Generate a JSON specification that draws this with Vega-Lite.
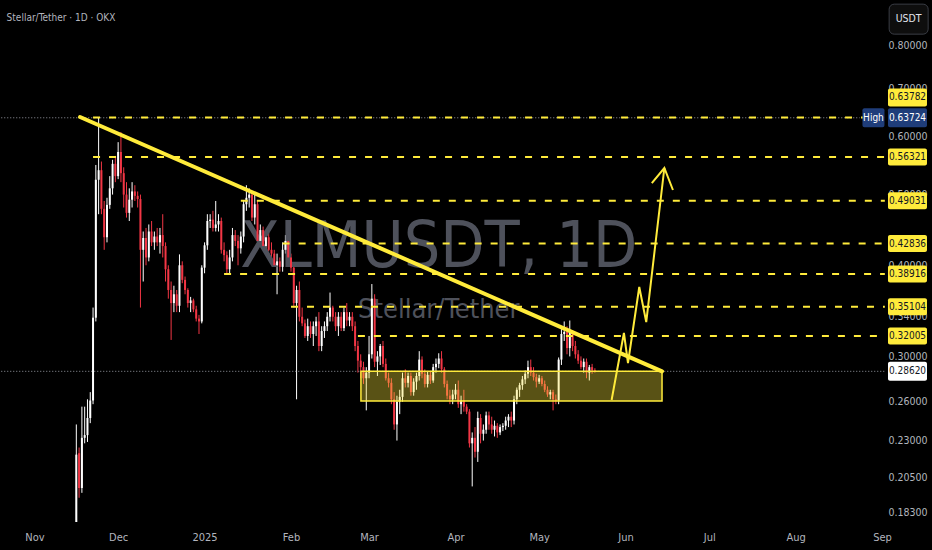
{
"$schema":"https://vega.github.io/schema/vega-lite/v6.json",
"width":932,"height":522,
"autosize":{"type":"none"},
"padding":{"left":0,"right":0,"top":0,"bottom":28},
"background":"#000000",
"config":{"view":{"stroke":null},"font":"Liberation Sans Narrow, DejaVu Sans Condensed, Liberation Sans, sans-serif"},
"resolve":{"axis":{"x":"independent","y":"independent"}},
"datasets":{
"candles":[
{"d":"2024-11-16","o":0.170,"h":0.242,"l":0.165,"c":0.220},
{"d":"2024-11-17","o":0.221,"h":0.225,"l":0.192,"c":0.198},
{"d":"2024-11-18","o":0.198,"h":0.256,"l":0.195,"c":0.232},
{"d":"2024-11-19","o":0.232,"h":0.256,"l":0.228,"c":0.234},
{"d":"2024-11-20","o":0.234,"h":0.262,"l":0.229,"c":0.247},
{"d":"2024-11-21","o":0.247,"h":0.268,"l":0.243,"c":0.261},
{"d":"2024-11-22","o":0.261,"h":0.350,"l":0.258,"c":0.339},
{"d":"2024-11-23","o":0.339,"h":0.549,"l":0.335,"c":0.524},
{"d":"2024-11-24","o":0.524,"h":0.6372,"l":0.470,"c":0.540},
{"d":"2024-11-25","o":0.540,"h":0.555,"l":0.470,"c":0.478},
{"d":"2024-11-26","o":0.478,"h":0.490,"l":0.420,"c":0.437},
{"d":"2024-11-27","o":0.437,"h":0.495,"l":0.430,"c":0.484},
{"d":"2024-11-28","o":0.484,"h":0.530,"l":0.478,"c":0.510},
{"d":"2024-11-29","o":0.510,"h":0.558,"l":0.500,"c":0.551},
{"d":"2024-11-30","o":0.551,"h":0.565,"l":0.520,"c":0.530},
{"d":"2024-12-01","o":0.530,"h":0.590,"l":0.525,"c":0.572},
{"d":"2024-12-02","o":0.572,"h":0.609,"l":0.520,"c":0.535},
{"d":"2024-12-03","o":0.535,"h":0.545,"l":0.480,"c":0.500},
{"d":"2024-12-04","o":0.500,"h":0.520,"l":0.465,"c":0.472},
{"d":"2024-12-05","o":0.472,"h":0.510,"l":0.460,"c":0.492},
{"d":"2024-12-06","o":0.492,"h":0.520,"l":0.480,"c":0.505},
{"d":"2024-12-07","o":0.505,"h":0.515,"l":0.490,"c":0.498},
{"d":"2024-12-08","o":0.498,"h":0.505,"l":0.480,"c":0.493},
{"d":"2024-12-09","o":0.493,"h":0.500,"l":0.350,"c":0.420},
{"d":"2024-12-10","o":0.420,"h":0.445,"l":0.380,"c":0.436},
{"d":"2024-12-11","o":0.436,"h":0.450,"l":0.400,"c":0.410},
{"d":"2024-12-12","o":0.410,"h":0.455,"l":0.405,"c":0.445},
{"d":"2024-12-13","o":0.445,"h":0.460,"l":0.425,"c":0.430},
{"d":"2024-12-14","o":0.430,"h":0.445,"l":0.420,"c":0.438},
{"d":"2024-12-15","o":0.438,"h":0.450,"l":0.425,"c":0.430},
{"d":"2024-12-16","o":0.430,"h":0.450,"l":0.415,"c":0.440},
{"d":"2024-12-17","o":0.440,"h":0.470,"l":0.410,"c":0.425},
{"d":"2024-12-18","o":0.425,"h":0.430,"l":0.380,"c":0.395},
{"d":"2024-12-19","o":0.395,"h":0.400,"l":0.360,"c":0.370},
{"d":"2024-12-20","o":0.370,"h":0.380,"l":0.316,"c":0.355},
{"d":"2024-12-21","o":0.355,"h":0.375,"l":0.345,"c":0.365},
{"d":"2024-12-22","o":0.365,"h":0.370,"l":0.345,"c":0.352},
{"d":"2024-12-23","o":0.352,"h":0.414,"l":0.345,"c":0.400},
{"d":"2024-12-24","o":0.400,"h":0.405,"l":0.378,"c":0.382},
{"d":"2024-12-25","o":0.382,"h":0.386,"l":0.365,"c":0.370},
{"d":"2024-12-26","o":0.370,"h":0.372,"l":0.350,"c":0.355},
{"d":"2024-12-27","o":0.355,"h":0.362,"l":0.345,"c":0.358},
{"d":"2024-12-28","o":0.358,"h":0.360,"l":0.345,"c":0.348},
{"d":"2024-12-29","o":0.348,"h":0.352,"l":0.335,"c":0.338},
{"d":"2024-12-30","o":0.338,"h":0.342,"l":0.322,"c":0.335},
{"d":"2024-12-31","o":0.335,"h":0.400,"l":0.333,"c":0.397},
{"d":"2025-01-01","o":0.397,"h":0.430,"l":0.390,"c":0.426},
{"d":"2025-01-02","o":0.426,"h":0.470,"l":0.420,"c":0.460},
{"d":"2025-01-03","o":0.460,"h":0.470,"l":0.450,"c":0.462},
{"d":"2025-01-04","o":0.462,"h":0.475,"l":0.445,"c":0.450},
{"d":"2025-01-05","o":0.450,"h":0.490,"l":0.445,"c":0.455},
{"d":"2025-01-06","o":0.455,"h":0.470,"l":0.445,"c":0.460},
{"d":"2025-01-07","o":0.460,"h":0.465,"l":0.415,"c":0.420},
{"d":"2025-01-08","o":0.420,"h":0.430,"l":0.405,"c":0.413},
{"d":"2025-01-09","o":0.413,"h":0.418,"l":0.389,"c":0.395},
{"d":"2025-01-10","o":0.395,"h":0.420,"l":0.390,"c":0.410},
{"d":"2025-01-11","o":0.410,"h":0.450,"l":0.405,"c":0.440},
{"d":"2025-01-12","o":0.440,"h":0.447,"l":0.425,"c":0.432},
{"d":"2025-01-13","o":0.432,"h":0.440,"l":0.400,"c":0.422},
{"d":"2025-01-14","o":0.422,"h":0.445,"l":0.415,"c":0.438},
{"d":"2025-01-15","o":0.438,"h":0.490,"l":0.430,"c":0.485},
{"d":"2025-01-16","o":0.485,"h":0.515,"l":0.475,"c":0.495},
{"d":"2025-01-17","o":0.495,"h":0.510,"l":0.480,"c":0.500},
{"d":"2025-01-18","o":0.500,"h":0.505,"l":0.460,"c":0.465},
{"d":"2025-01-19","o":0.465,"h":0.500,"l":0.455,"c":0.485},
{"d":"2025-01-20","o":0.485,"h":0.490,"l":0.430,"c":0.432},
{"d":"2025-01-21","o":0.432,"h":0.455,"l":0.425,"c":0.447},
{"d":"2025-01-22","o":0.447,"h":0.452,"l":0.420,"c":0.425},
{"d":"2025-01-23","o":0.425,"h":0.445,"l":0.420,"c":0.437},
{"d":"2025-01-24","o":0.437,"h":0.445,"l":0.418,"c":0.420},
{"d":"2025-01-25","o":0.420,"h":0.430,"l":0.410,"c":0.415},
{"d":"2025-01-26","o":0.415,"h":0.420,"l":0.398,"c":0.400},
{"d":"2025-01-27","o":0.400,"h":0.415,"l":0.365,"c":0.405},
{"d":"2025-01-28","o":0.405,"h":0.410,"l":0.392,"c":0.398},
{"d":"2025-01-29","o":0.398,"h":0.430,"l":0.392,"c":0.420},
{"d":"2025-01-30","o":0.420,"h":0.440,"l":0.415,"c":0.432},
{"d":"2025-01-31","o":0.432,"h":0.440,"l":0.405,"c":0.410},
{"d":"2025-02-01","o":0.410,"h":0.415,"l":0.392,"c":0.397},
{"d":"2025-02-02","o":0.397,"h":0.400,"l":0.350,"c":0.355},
{"d":"2025-02-03","o":0.355,"h":0.375,"l":0.262,"c":0.370},
{"d":"2025-02-04","o":0.370,"h":0.380,"l":0.335,"c":0.340},
{"d":"2025-02-05","o":0.340,"h":0.350,"l":0.330,"c":0.333},
{"d":"2025-02-06","o":0.333,"h":0.337,"l":0.318,"c":0.320},
{"d":"2025-02-07","o":0.320,"h":0.338,"l":0.315,"c":0.330},
{"d":"2025-02-08","o":0.330,"h":0.335,"l":0.318,"c":0.322},
{"d":"2025-02-09","o":0.322,"h":0.335,"l":0.310,"c":0.330},
{"d":"2025-02-10","o":0.330,"h":0.340,"l":0.320,"c":0.335},
{"d":"2025-02-11","o":0.335,"h":0.345,"l":0.305,"c":0.310},
{"d":"2025-02-12","o":0.310,"h":0.330,"l":0.305,"c":0.325},
{"d":"2025-02-13","o":0.325,"h":0.335,"l":0.318,"c":0.330},
{"d":"2025-02-14","o":0.330,"h":0.345,"l":0.325,"c":0.340},
{"d":"2025-02-15","o":0.340,"h":0.367,"l":0.335,"c":0.350},
{"d":"2025-02-16","o":0.350,"h":0.352,"l":0.335,"c":0.340},
{"d":"2025-02-17","o":0.340,"h":0.345,"l":0.325,"c":0.330},
{"d":"2025-02-18","o":0.330,"h":0.345,"l":0.320,"c":0.340},
{"d":"2025-02-19","o":0.340,"h":0.345,"l":0.325,"c":0.328},
{"d":"2025-02-20","o":0.328,"h":0.350,"l":0.325,"c":0.345},
{"d":"2025-02-21","o":0.345,"h":0.355,"l":0.330,"c":0.336},
{"d":"2025-02-22","o":0.336,"h":0.345,"l":0.330,"c":0.340},
{"d":"2025-02-23","o":0.340,"h":0.345,"l":0.325,"c":0.330},
{"d":"2025-02-24","o":0.330,"h":0.335,"l":0.305,"c":0.310},
{"d":"2025-02-25","o":0.310,"h":0.315,"l":0.285,"c":0.296},
{"d":"2025-02-26","o":0.296,"h":0.302,"l":0.280,"c":0.290},
{"d":"2025-02-27","o":0.290,"h":0.295,"l":0.275,"c":0.280},
{"d":"2025-02-28","o":0.280,"h":0.290,"l":0.253,"c":0.285},
{"d":"2025-03-01","o":0.285,"h":0.320,"l":0.280,"c":0.302},
{"d":"2025-03-02","o":0.302,"h":0.377,"l":0.298,"c":0.360},
{"d":"2025-03-03","o":0.360,"h":0.365,"l":0.290,"c":0.295},
{"d":"2025-03-04","o":0.295,"h":0.305,"l":0.282,"c":0.300},
{"d":"2025-03-05","o":0.300,"h":0.312,"l":0.292,"c":0.310},
{"d":"2025-03-06","o":0.310,"h":0.315,"l":0.290,"c":0.293},
{"d":"2025-03-07","o":0.293,"h":0.298,"l":0.278,"c":0.280},
{"d":"2025-03-08","o":0.280,"h":0.285,"l":0.272,"c":0.276},
{"d":"2025-03-09","o":0.276,"h":0.280,"l":0.258,"c":0.262},
{"d":"2025-03-10","o":0.262,"h":0.268,"l":0.238,"c":0.242},
{"d":"2025-03-11","o":0.242,"h":0.265,"l":0.230,"c":0.260},
{"d":"2025-03-12","o":0.260,"h":0.270,"l":0.250,"c":0.264},
{"d":"2025-03-13","o":0.264,"h":0.285,"l":0.260,"c":0.280},
{"d":"2025-03-14","o":0.280,"h":0.288,"l":0.272,"c":0.276},
{"d":"2025-03-15","o":0.276,"h":0.285,"l":0.272,"c":0.282},
{"d":"2025-03-16","o":0.282,"h":0.285,"l":0.265,"c":0.268},
{"d":"2025-03-17","o":0.268,"h":0.280,"l":0.265,"c":0.277},
{"d":"2025-03-18","o":0.277,"h":0.285,"l":0.270,"c":0.282},
{"d":"2025-03-19","o":0.282,"h":0.305,"l":0.278,"c":0.297},
{"d":"2025-03-20","o":0.297,"h":0.300,"l":0.280,"c":0.284},
{"d":"2025-03-21","o":0.284,"h":0.288,"l":0.272,"c":0.275},
{"d":"2025-03-22","o":0.275,"h":0.286,"l":0.272,"c":0.283},
{"d":"2025-03-23","o":0.283,"h":0.286,"l":0.275,"c":0.278},
{"d":"2025-03-24","o":0.278,"h":0.293,"l":0.276,"c":0.290},
{"d":"2025-03-25","o":0.290,"h":0.298,"l":0.285,"c":0.293},
{"d":"2025-03-26","o":0.293,"h":0.303,"l":0.289,"c":0.298},
{"d":"2025-03-27","o":0.298,"h":0.305,"l":0.285,"c":0.288},
{"d":"2025-03-28","o":0.288,"h":0.290,"l":0.272,"c":0.275},
{"d":"2025-03-29","o":0.275,"h":0.278,"l":0.262,"c":0.265},
{"d":"2025-03-30","o":0.265,"h":0.270,"l":0.258,"c":0.262},
{"d":"2025-03-31","o":0.262,"h":0.270,"l":0.258,"c":0.266},
{"d":"2025-04-01","o":0.266,"h":0.275,"l":0.262,"c":0.270},
{"d":"2025-04-02","o":0.270,"h":0.278,"l":0.255,"c":0.258},
{"d":"2025-04-03","o":0.258,"h":0.265,"l":0.250,"c":0.261},
{"d":"2025-04-04","o":0.261,"h":0.270,"l":0.252,"c":0.256},
{"d":"2025-04-05","o":0.256,"h":0.258,"l":0.250,"c":0.252},
{"d":"2025-04-06","o":0.252,"h":0.254,"l":0.225,"c":0.228},
{"d":"2025-04-07","o":0.228,"h":0.236,"l":0.199,"c":0.232},
{"d":"2025-04-08","o":0.232,"h":0.240,"l":0.218,"c":0.222},
{"d":"2025-04-09","o":0.222,"h":0.252,"l":0.215,"c":0.247},
{"d":"2025-04-10","o":0.247,"h":0.250,"l":0.228,"c":0.235},
{"d":"2025-04-11","o":0.235,"h":0.242,"l":0.230,"c":0.238},
{"d":"2025-04-12","o":0.238,"h":0.252,"l":0.235,"c":0.249},
{"d":"2025-04-13","o":0.249,"h":0.252,"l":0.238,"c":0.242},
{"d":"2025-04-14","o":0.242,"h":0.248,"l":0.235,"c":0.238},
{"d":"2025-04-15","o":0.238,"h":0.245,"l":0.233,"c":0.241},
{"d":"2025-04-16","o":0.241,"h":0.243,"l":0.232,"c":0.236},
{"d":"2025-04-17","o":0.236,"h":0.242,"l":0.234,"c":0.240},
{"d":"2025-04-18","o":0.240,"h":0.243,"l":0.237,"c":0.241},
{"d":"2025-04-19","o":0.241,"h":0.248,"l":0.238,"c":0.245},
{"d":"2025-04-20","o":0.245,"h":0.250,"l":0.240,"c":0.248},
{"d":"2025-04-21","o":0.248,"h":0.252,"l":0.240,"c":0.245},
{"d":"2025-04-22","o":0.245,"h":0.265,"l":0.242,"c":0.262},
{"d":"2025-04-23","o":0.262,"h":0.272,"l":0.258,"c":0.270},
{"d":"2025-04-24","o":0.270,"h":0.276,"l":0.264,"c":0.274},
{"d":"2025-04-25","o":0.274,"h":0.282,"l":0.270,"c":0.279},
{"d":"2025-04-26","o":0.279,"h":0.287,"l":0.275,"c":0.284},
{"d":"2025-04-27","o":0.284,"h":0.296,"l":0.280,"c":0.290},
{"d":"2025-04-28","o":0.290,"h":0.297,"l":0.282,"c":0.285},
{"d":"2025-04-29","o":0.285,"h":0.290,"l":0.278,"c":0.281},
{"d":"2025-04-30","o":0.281,"h":0.284,"l":0.272,"c":0.277},
{"d":"2025-05-01","o":0.277,"h":0.283,"l":0.275,"c":0.280},
{"d":"2025-05-02","o":0.280,"h":0.282,"l":0.273,"c":0.275},
{"d":"2025-05-03","o":0.275,"h":0.278,"l":0.268,"c":0.270},
{"d":"2025-05-04","o":0.270,"h":0.273,"l":0.264,"c":0.266},
{"d":"2025-05-05","o":0.266,"h":0.270,"l":0.262,"c":0.268},
{"d":"2025-05-06","o":0.268,"h":0.270,"l":0.253,"c":0.262},
{"d":"2025-05-07","o":0.262,"h":0.266,"l":0.258,"c":0.261},
{"d":"2025-05-08","o":0.261,"h":0.299,"l":0.258,"c":0.297},
{"d":"2025-05-09","o":0.297,"h":0.327,"l":0.292,"c":0.322},
{"d":"2025-05-10","o":0.322,"h":0.335,"l":0.315,"c":0.324},
{"d":"2025-05-11","o":0.324,"h":0.330,"l":0.302,"c":0.308},
{"d":"2025-05-12","o":0.308,"h":0.336,"l":0.300,"c":0.323},
{"d":"2025-05-13","o":0.323,"h":0.326,"l":0.305,"c":0.310},
{"d":"2025-05-14","o":0.310,"h":0.315,"l":0.298,"c":0.302},
{"d":"2025-05-15","o":0.302,"h":0.306,"l":0.293,"c":0.296},
{"d":"2025-05-16","o":0.296,"h":0.300,"l":0.288,"c":0.290},
{"d":"2025-05-17","o":0.290,"h":0.298,"l":0.285,"c":0.295},
{"d":"2025-05-18","o":0.295,"h":0.298,"l":0.280,"c":0.285},
{"d":"2025-05-19","o":0.285,"h":0.292,"l":0.278,"c":0.290},
{"d":"2025-05-20","o":0.290,"h":0.293,"l":0.284,"c":0.287},
{"d":"2025-05-21","o":0.287,"h":0.289,"l":0.285,"c":0.2862}
],
"levels":[
{"v":0.63782,"a":"2024-11-22","t":"0.63782"},
{"v":0.56321,"a":"2024-11-22","t":"0.56321"},
{"v":0.49031,"a":"2025-01-14","t":"0.49031"},
{"v":0.42836,"a":"2025-01-29","t":"0.42836"},
{"v":0.38916,"a":"2025-01-08","t":"0.38916"},
{"v":0.35104,"a":"2025-02-01","t":"0.35104"},
{"v":0.32005,"a":"2025-02-25","t":"0.32005"}
],
"arrow":[
{"s":"a","i":1,"t":"2025-05-27T00:00:00Z","p":0.2614},
{"s":"a","i":2,"t":"2025-05-31T10:00:00Z","p":0.323},
{"s":"a","i":3,"t":"2025-06-01T21:00:00Z","p":0.2938},
{"s":"a","i":4,"t":"2025-06-05T22:00:00Z","p":0.3735},
{"s":"a","i":5,"t":"2025-06-08T10:00:00Z","p":0.3344},
{"s":"a","i":6,"t":"2025-06-14T22:00:00Z","p":0.5438},
{"s":"h","i":1,"t":"2025-06-10T10:00:00Z","p":0.5186},
{"s":"h","i":2,"t":"2025-06-14T22:00:00Z","p":0.5438},
{"s":"h","i":3,"t":"2025-06-18T00:00:00Z","p":0.5073}
]
},
"layer":[
{"data":{"name":"candles"},
 "mark":{"type":"rule","strokeWidth":1,"clip":true},
 "encoding":{
  "x":{"field":"d","type":"temporal","scale":{"type":"utc","domain":[1729350000000,1758232800000],"nice":false},
   "axis":{"title":null,"orient":"bottom","grid":false,"ticks":false,"domain":false,"labelColor":"#b2b5be","labelFontSize":11,"labelPadding":9,"labelFlush":false,"labelOverlap":false,
    "values":[{"year":2024,"month":11,"date":1,"utc":true},{"year":2024,"month":12,"date":1,"utc":true},{"year":2025,"month":1,"date":1,"utc":true},{"year":2025,"month":2,"date":1,"utc":true},{"year":2025,"month":3,"date":1,"utc":true},{"year":2025,"month":4,"date":1,"utc":true},{"year":2025,"month":5,"date":1,"utc":true},{"year":2025,"month":6,"date":1,"utc":true},{"year":2025,"month":7,"date":1,"utc":true},{"year":2025,"month":8,"date":1,"utc":true},{"year":2025,"month":9,"date":1,"utc":true}],
    "labelExpr":"utcFormat(datum.value, '%m') == '01' ? utcFormat(datum.value, '%Y') : utcFormat(datum.value, '%b')"}},
  "y":{"field":"l","type":"quantitative","scale":{"type":"log","domain":[0.17786,0.9242],"nice":false},
   "axis":{"title":null,"orient":"right","offset":-44.5,"grid":false,"ticks":false,"tickSize":0,"domain":false,"labelColor":"#b2b5be","labelFontSize":10.5,"labelAlign":"center","labelBaseline":"middle","labelPadding":20,"labelFlush":false,"labelOverlap":false,"format":".5f",
    "values":[0.8,0.7,0.6,0.5,0.4,0.34,0.3,0.26,0.23,0.205,0.183]}},
  "y2":{"field":"h"},
  "color":{"condition":{"test":"datum.c >= datum.o","value":"#ffffff"},"value":"#f23645"}}},
{"data":{"values":[{"t":"XLMUSDT, 1D"}]},
 "mark":{"type":"text","fontSize":64,"color":"#4e515b","align":"center","baseline":"alphabetic"},
 "encoding":{"text":{"field":"t"},
  "x":{"datum":{"year":2025,"month":3,"date":26,"utc":true},"type":"temporal","axis":null},
  "y":{"datum":0.398,"type":"quantitative","axis":null}}},
{"data":{"values":[{"t":"Stellar/Tether"}]},
 "mark":{"type":"text","fontSize":27,"color":"#4e515b","align":"center","baseline":"alphabetic"},
 "encoding":{"text":{"field":"t"},
  "x":{"datum":{"year":2025,"month":3,"date":26,"utc":true},"type":"temporal","axis":null},
  "y":{"datum":0.3387,"type":"quantitative","axis":null}}},
{"data":{"values":[{"t":"Stellar/Tether · 1D · OKX"}]},
 "mark":{"type":"text","fontSize":10,"color":"#b2b5be","align":"left","baseline":"middle"},
 "encoding":{"text":{"field":"t"},
  "x":{"datum":{"year":2024,"month":10,"date":22,"utc":true},"type":"temporal","axis":null},
  "y":{"datum":0.873,"type":"quantitative","axis":null}}},
{"data":{"values":[{"v":0.63724,"a":"2024-10-19","b":"2025-08-24"},{"v":0.2862,"a":"2024-10-19","b":"2025-09-02"}]},
 "mark":{"type":"rule","color":"#9598a1","strokeWidth":1,"strokeDash":[1,2]},
 "encoding":{"x":{"field":"a","type":"temporal","axis":null},"x2":{"field":"b"},
  "y":{"field":"v","type":"quantitative","axis":null}}},
{"data":{"name":"candles"},
 "mark":{"type":"rule","strokeWidth":2,"clip":true},
 "encoding":{
  "x":{"field":"d","type":"temporal","axis":null},
  "y":{"field":"o","type":"quantitative","axis":null},
  "y2":{"field":"c"},
  "color":{"condition":{"test":"datum.c >= datum.o","value":"#ffffff"},"value":"#f23645"}}},
{"data":{"values":[{"t0":"2025-02-26T02:00:00Z","t1":"2025-06-14T02:00:00Z","p0":0.2607,"p1":0.2862}]},
 "mark":{"type":"rect","fill":"#ffeb3b","fillOpacity":0.35,"stroke":"#ffeb3b","strokeWidth":1.5},
 "encoding":{"x":{"field":"t0","type":"temporal","axis":null},"x2":{"field":"t1"},
  "y":{"field":"p0","type":"quantitative","axis":null},"y2":{"field":"p1"}}},
{"data":{"name":"levels"},
 "mark":{"type":"rule","color":"#ffeb3b","strokeWidth":2,"strokeDash":[7,9]},
 "encoding":{"x":{"field":"a","type":"temporal","axis":null},"x2":{"datum":{"year":2025,"month":9,"date":2,"utc":true}},
  "y":{"field":"v","type":"quantitative","axis":null}}},
{"data":{"values":[{"t":"2024-11-17T08:00:00Z","p":0.6388},{"t":"2025-06-14T02:00:00Z","p":0.2862}]},
 "mark":{"type":"line","color":"#ffeb3b","strokeWidth":4,"strokeCap":"round"},
 "encoding":{"x":{"field":"t","type":"temporal","axis":null},"y":{"field":"p","type":"quantitative","axis":null}}},
{"data":{"name":"arrow"},
 "mark":{"type":"line","color":"#ffeb3b","strokeWidth":2,"strokeJoin":"miter"},
 "encoding":{"x":{"field":"t","type":"temporal","axis":null},"y":{"field":"p","type":"quantitative","axis":null},
  "detail":{"field":"s"},"order":{"field":"i"}}},
{"data":{"name":"levels"},
 "transform":[{"filter":"datum.v != 0.63782"}],
 "mark":{"type":"tick","orient":"horizontal","thickness":17,"color":"#ffeb3b","opacity":1,"cornerRadius":2},
 "encoding":{"x":{"datum":{"year":2025,"month":9,"date":10,"hours":3,"utc":true},"type":"temporal","axis":null},
  "y":{"field":"v","type":"quantitative","axis":null},"size":{"value":39}}},
{"data":{"name":"levels"},
 "transform":[{"filter":"datum.v != 0.63782"}],
 "mark":{"type":"text","fontSize":10,"color":"#131722","align":"center","baseline":"middle"},
 "encoding":{"x":{"datum":{"year":2025,"month":9,"date":10,"hours":3,"utc":true},"type":"temporal","axis":null},
  "y":{"field":"v","type":"quantitative","axis":null},"text":{"field":"t"}}},
{"data":{"name":"levels"},
 "transform":[{"filter":"datum.v == 0.63782"}],
 "mark":{"type":"tick","orient":"horizontal","thickness":18,"color":"#ffeb3b","opacity":1,"cornerRadius":2,"yOffset":-20},
 "encoding":{"x":{"datum":{"year":2025,"month":9,"date":10,"hours":3,"utc":true},"type":"temporal","axis":null},
  "y":{"field":"v","type":"quantitative","axis":null},"size":{"value":39}}},
{"data":{"name":"levels"},
 "transform":[{"filter":"datum.v == 0.63782"}],
 "mark":{"type":"text","fontSize":10,"color":"#131722","align":"center","baseline":"middle","yOffset":-20},
 "encoding":{"x":{"datum":{"year":2025,"month":9,"date":10,"hours":3,"utc":true},"type":"temporal","axis":null},
  "y":{"field":"v","type":"quantitative","axis":null},"text":{"field":"t"}}},
{"data":{"values":[{"v":0.63724}]},
 "mark":{"type":"tick","orient":"horizontal","thickness":19,"color":"#1f3d7a","opacity":1,"cornerRadius":2},
 "encoding":{"x":{"datum":{"year":2025,"month":8,"date":28,"hours":22,"utc":true},"type":"temporal","axis":null},
  "y":{"field":"v","type":"quantitative","axis":null},"size":{"value":22}}},
{"data":{"values":[{"v":0.63724}]},
 "mark":{"type":"tick","orient":"horizontal","thickness":19,"color":"#1f3d7a","opacity":1,"cornerRadius":2},
 "encoding":{"x":{"datum":{"year":2025,"month":9,"date":10,"hours":3,"utc":true},"type":"temporal","axis":null},
  "y":{"field":"v","type":"quantitative","axis":null},"size":{"value":39}}},
{"data":{"values":[{"v":0.63724,"t":"High"}]},
 "mark":{"type":"text","fontSize":10,"color":"#ffffff","align":"center","baseline":"middle"},
 "encoding":{"x":{"datum":{"year":2025,"month":8,"date":28,"hours":22,"utc":true},"type":"temporal","axis":null},
  "y":{"field":"v","type":"quantitative","axis":null},"text":{"field":"t"}}},
{"data":{"values":[{"v":0.63724,"t":"0.63724"}]},
 "mark":{"type":"text","fontSize":10,"color":"#ffffff","align":"center","baseline":"middle"},
 "encoding":{"x":{"datum":{"year":2025,"month":9,"date":10,"hours":3,"utc":true},"type":"temporal","axis":null},
  "y":{"field":"v","type":"quantitative","axis":null},"text":{"field":"t"}}},
{"data":{"values":[{"v":0.2862,"t":"0.28620"}]},
 "mark":{"type":"tick","orient":"horizontal","thickness":19,"color":"#ffffff","opacity":1,"cornerRadius":2},
 "encoding":{"x":{"datum":{"year":2025,"month":9,"date":10,"hours":3,"utc":true},"type":"temporal","axis":null},
  "y":{"field":"v","type":"quantitative","axis":null},"size":{"value":39}}},
{"data":{"values":[{"v":0.2862,"t":"0.28620"}]},
 "mark":{"type":"text","fontSize":10,"color":"#131722","align":"center","baseline":"middle"},
 "encoding":{"x":{"datum":{"year":2025,"month":9,"date":10,"hours":3,"utc":true},"type":"temporal","axis":null},
  "y":{"field":"v","type":"quantitative","axis":null},"text":{"field":"t"}}},
{"data":{"values":[{"v":0.870,"t":"USDT"}]},
 "mark":{"type":"tick","orient":"horizontal","thickness":30,"color":"#0e0e0e","stroke":"#3a3d45","strokeWidth":1,"opacity":1,"cornerRadius":5},
 "encoding":{"x":{"datum":{"year":2025,"month":9,"date":10,"hours":13,"utc":true},"type":"temporal","axis":null},
  "y":{"field":"v","type":"quantitative","axis":null},"size":{"value":39}}},
{"data":{"values":[{"v":0.870,"t":"USDT"}]},
 "mark":{"type":"text","fontSize":10.5,"color":"#e0e3eb","align":"center","baseline":"middle"},
 "encoding":{"x":{"datum":{"year":2025,"month":9,"date":10,"hours":13,"utc":true},"type":"temporal","axis":null},
  "y":{"field":"v","type":"quantitative","axis":null},"text":{"field":"t"}}}
]
}
